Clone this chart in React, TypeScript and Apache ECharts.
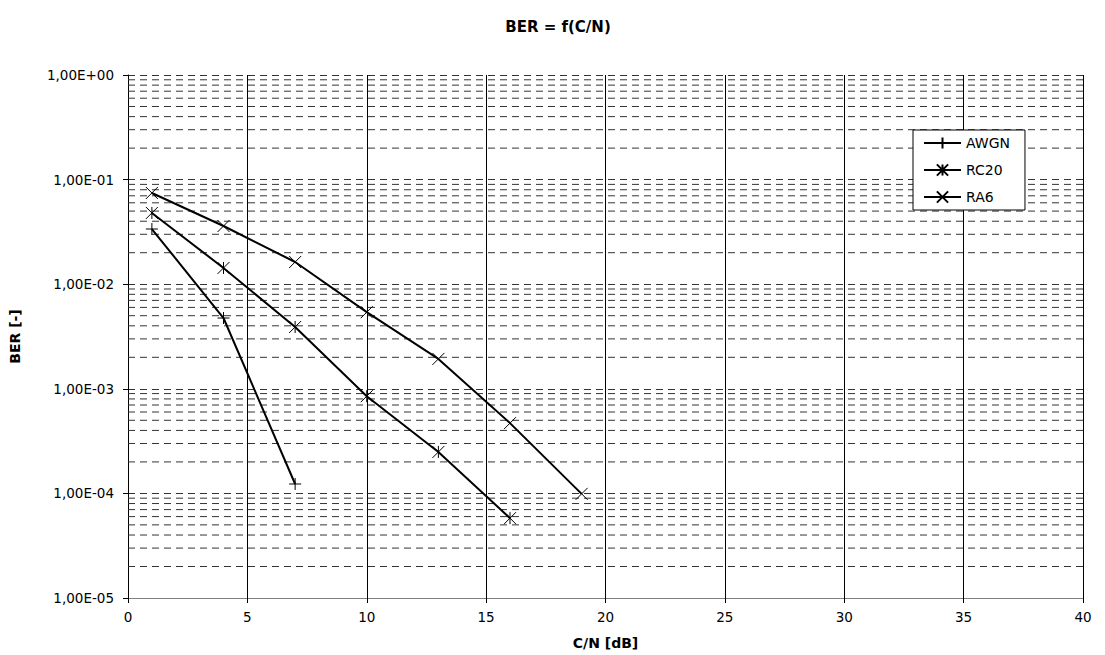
import React, { useEffect, useRef } from "react";
import * as echarts from "echarts";

const cn = [1, 4, 7, 10, 13, 16, 19];
const awgn = [0.0337, 0.00475, 0.000123];
const rc20 = [0.048, 0.0143, 0.0039, 0.00085, 0.000249, 0.000058];
const ra6 = [0.0745, 0.036, 0.0163, 0.0054, 0.00193, 0.00047, 0.000099];
const seriesNames = ["AWGN", "RC20", "RA6"];
const decades = [-5, -4, -3, -2, -1];
const minorSteps = [2, 3, 4, 5, 6, 7, 8, 9];
const xRange = [0, 40];

const SYM_PLUS = "path://M5,0 L5,10 M0,5 L10,5";
const SYM_AST = "path://M5,0 L5,10 M0,0 L10,10 M10,0 L0,10";
const SYM_X = "path://M0,0 L10,10 M10,0 L0,10";

const FONT = "'DejaVu Sans', Arial, sans-serif";

function fmt(v: number) {
  const e = Math.round(Math.log10(v));
  const a = Math.abs(e);
  return "1,00E" + (e >= 0 ? "+" : "-") + (a < 10 ? "0" : "") + a;
}

export default function App() {
  const ref = useRef<HTMLDivElement>(null);
  useEffect(() => {
    if (!ref.current) return;
    const chart = echarts.init(ref.current, null, { renderer: "svg" });
    const minorVals: number[] = [];
    decades.forEach((d) => minorSteps.forEach((k) => minorVals.push(k * Math.pow(10, d))));
    const minorSeries = minorVals.map((v, i) => ({
      name: "minor" + i,
      type: "line",
      data: [
        [xRange[0], v],
        [xRange[1], v],
      ],
      symbol: "none",
      silent: true,
      z: 1,
      lineStyle: { color: "#333", width: 1, type: [7, 5] },
      emphasis: { disabled: true },
    }));
    const mk = (name: string, vals: number[], sym: string) => ({
      name,
      type: "line",
      data: vals.map((v, i) => [cn[i], v]),
      symbol: sym,
      symbolSize: 12,
      showSymbol: true,
      z: 5,
      lineStyle: { color: "#000", width: 2 },
      itemStyle: { color: "#000", borderColor: "#000", borderWidth: 1 },
      emphasis: { disabled: true },
    });
    chart.setOption({
      animation: false,
      backgroundColor: "#fff",
      textStyle: { fontFamily: FONT },
      title: {
        text: "BER = f(C/N)",
        left: 553,
        textAlign: "center",
        top: 14,
        textStyle: { fontFamily: FONT, fontSize: 15, fontWeight: "bold", color: "#000" },
      },
      legend: {
        data: seriesNames,
        orient: "vertical",
        left: 913,
        top: 130,
        itemWidth: 37,
        itemHeight: 14,
        itemGap: 13,
        padding: [6, 15, 6, 10],
        backgroundColor: "#fff",
        borderColor: "#000",
        borderWidth: 1,
        textStyle: { fontFamily: FONT, fontSize: 14, color: "#000" },
      },
      grid: { left: 126, right: 22, top: 75, bottom: 57, containLabel: false },
      xAxis: {
        type: "value",
        min: xRange[0],
        max: xRange[1],
        interval: 5,
        name: "C/N [dB]",
        nameLocation: "middle",
        nameGap: 38,
        nameTextStyle: { fontFamily: FONT, fontSize: 14, fontWeight: "bold", color: "#000" },
        axisLine: { show: true, onZero: false, lineStyle: { color: "#808080", width: 1 } },
        axisTick: { show: true, length: 5, lineStyle: { color: "#000" } },
        axisLabel: { fontFamily: FONT, fontSize: 13.5, color: "#000", margin: 12 },
        splitLine: { show: true, lineStyle: { color: "#000", width: 1, type: "solid" } },
      },
      yAxis: {
        type: "log",
        logBase: 10,
        min: 1e-5,
        max: 1,
        name: "BER [-]",
        nameLocation: "middle",
        nameGap: 106,
        nameTextStyle: { fontFamily: FONT, fontSize: 14, fontWeight: "bold", color: "#000" },
        axisLine: { show: true, onZero: false, lineStyle: { color: "#000", width: 1 } },
        axisTick: { show: true, length: 5, lineStyle: { color: "#000" } },
        axisLabel: { fontFamily: FONT, fontSize: 13.5, color: "#000", margin: 14, formatter: (v: number) => fmt(v) },
        splitLine: { show: true, lineStyle: { color: "#333", width: 1, type: [7, 5] } },
        minorTick: { show: false },
        minorSplitLine: { show: false },
      },
      series: [...minorSeries, mk("AWGN", awgn, SYM_PLUS), mk("RC20", rc20, SYM_AST), mk("RA6", ra6, SYM_X)],
    });
    return () => chart.dispose();
  }, []);
  return <div ref={ref} style={{ width: 1105, height: 655, position: "absolute", left: 0, top: 0 }} />;
}
